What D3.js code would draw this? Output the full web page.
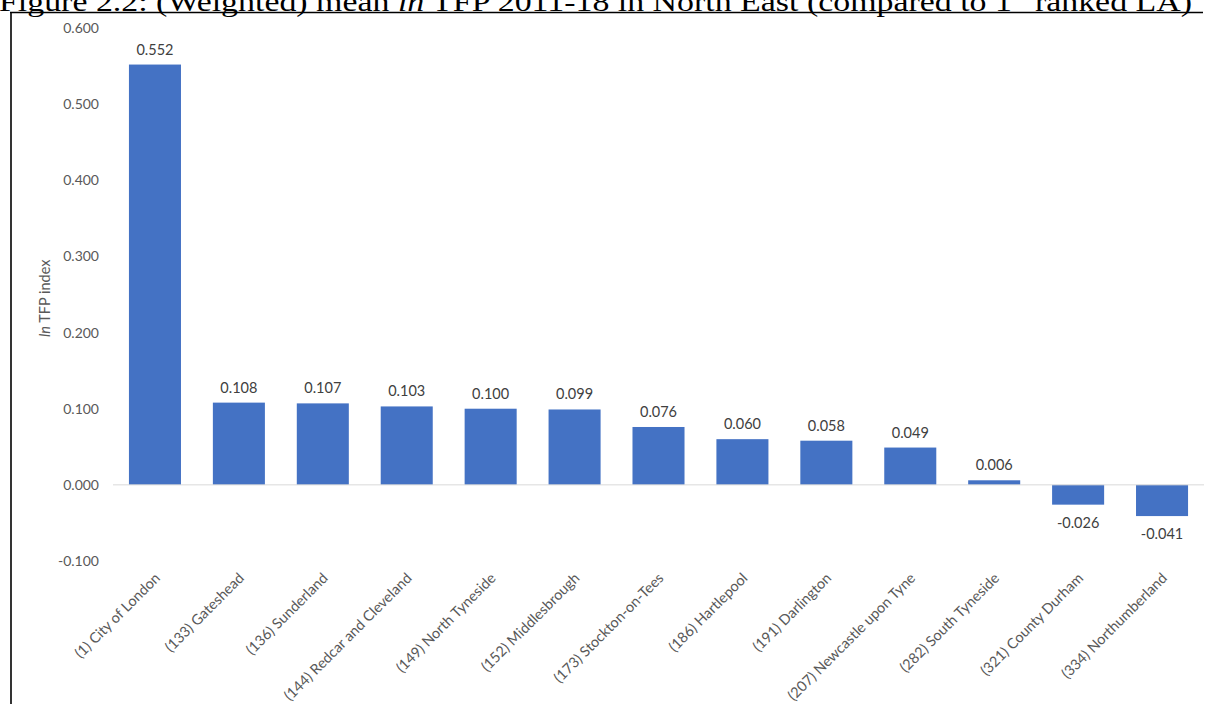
<!DOCTYPE html>
<html>
<head>
<meta charset="utf-8">
<script src="https://cdn.jsdelivr.net/npm/d3@7"></script>
<style>
  html, body { margin: 0; padding: 0; background: #fff; }
  svg { display: block; }
</style>
</head>
<body>
<svg id="chart" width="1209" height="704"></svg>
<script>
// Local authorities in the North East, with national rank in brackets
const categories = [
  "(1) City of London",
  "(133) Gateshead",
  "(136) Sunderland",
  "(144) Redcar and Cleveland",
  "(149) North Tyneside",
  "(152) Middlesbrough",
  "(173) Stockton-on-Tees",
  "(186) Hartlepool",
  "(191) Darlington",
  "(207) Newcastle upon Tyne",
  "(282) South Tyneside",
  "(321) County Durham",
  "(334) Northumberland"
];

// Weighted mean ln TFP index, 2011-18
const values = [0.552, 0.108, 0.107, 0.103, 0.100, 0.099, 0.076, 0.060, 0.058, 0.049, 0.006, -0.026, -0.041];

const yTicks = [-0.1, 0.0, 0.1, 0.2, 0.3, 0.4, 0.5, 0.6];

const svg = d3.select("#chart");
const W = 1209, H = 704;

const font = "Lato, 'Open Sans', sans-serif";
const axisGrey = "#595959";
const labelGrey = "#404040";
const barColor = "#4472C4";
const fmt = d => d3.format(".3f")(d).replace("−", "-");

// Figure caption (runs off the top of the page)
const title = svg.append("text")
  .attr("x", -1)
  .attr("y", 11)
  .attr("font-family", "'Liberation Serif', 'DejaVu Serif', serif")
  .attr("font-size", 28)
  .attr("fill", "#000")
  .attr("textLength", 1193)
  .attr("lengthAdjust", "spacingAndGlyphs");
title.append("tspan").text("Figure 2.2: (Weighted) mean ");
title.append("tspan").attr("font-style", "italic").text("ln");
title.append("tspan").text(" TFP 2011-18 in North East (compared to 1");
title.append("tspan").attr("font-size", 18).attr("dy", -12).text("st");
title.append("tspan").attr("dy", 12).text(" ranked LA)");

// Figure frame
svg.append("line")
  .attr("x1", 10).attr("x2", 1203).attr("y1", 12.5).attr("y2", 12.5)
  .attr("stroke", "#000").attr("stroke-width", 1.6);
svg.append("line")
  .attr("x1", 11).attr("x2", 11).attr("y1", 12).attr("y2", H)
  .attr("stroke", "#000").attr("stroke-width", 1.6);

// Scales
const x = d3.scaleBand()
  .domain(categories)
  .range([113, 1204])
  .paddingInner(0.38)
  .paddingOuter(0.19);

const y = d3.scaleLinear()
  .domain([-0.1, 0.6])
  .range([561, 28]);

// Y axis (labels only)
const yAxis = d3.axisLeft(y)
  .tickValues(yTicks)
  .tickFormat(fmt)
  .tickSize(0)
  .tickPadding(0);

const gy = svg.append("g")
  .attr("transform", "translate(99,0)")
  .call(yAxis);
gy.select(".domain").remove();
gy.selectAll("text")
  .attr("font-family", font)
  .attr("font-size", 14)
  .attr("fill", axisGrey);

// Y axis title
const yTitle = svg.append("text")
  .attr("transform", `translate(50,${y(0.245)}) rotate(-90)`)
  .attr("text-anchor", "middle")
  .attr("font-family", font)
  .attr("font-size", 14.5)
  .attr("fill", axisGrey);
yTitle.append("tspan").attr("font-style", "italic").text("ln");
yTitle.append("tspan").text(" TFP index");

// Bars
svg.append("g")
  .selectAll("rect")
  .data(values)
  .join("rect")
  .attr("x", (d, i) => x(categories[i]))
  .attr("width", x.bandwidth())
  .attr("y", d => y(Math.max(0, d)))
  .attr("height", d => Math.abs(y(d) - y(0)))
  .attr("fill", barColor);

// Zero baseline
svg.append("line")
  .attr("x1", 113).attr("x2", 1204)
  .attr("y1", y(0)).attr("y2", y(0))
  .attr("stroke", "#d9d9d9").attr("stroke-width", 1);

// Value labels
svg.append("g")
  .selectAll("text")
  .data(values)
  .join("text")
  .attr("x", (d, i) => x(categories[i]) + x.bandwidth() / 2)
  .attr("y", d => d >= 0 ? y(d) - 10 : y(d) + 23)
  .attr("text-anchor", "middle")
  .attr("font-family", font)
  .attr("font-size", 14.5)
  .attr("fill", labelGrey)
  .text(fmt);

// Category labels, rotated
svg.append("g")
  .selectAll("text")
  .data(categories)
  .join("text")
  .attr("transform", d => `translate(${x(d) + x.bandwidth() / 2 + 6},579) rotate(-45)`)
  .attr("text-anchor", "end")
  .attr("font-family", font)
  .attr("font-size", 14.5)
  .attr("fill", axisGrey)
  .text(d => d);
</script>
</body>
</html>
